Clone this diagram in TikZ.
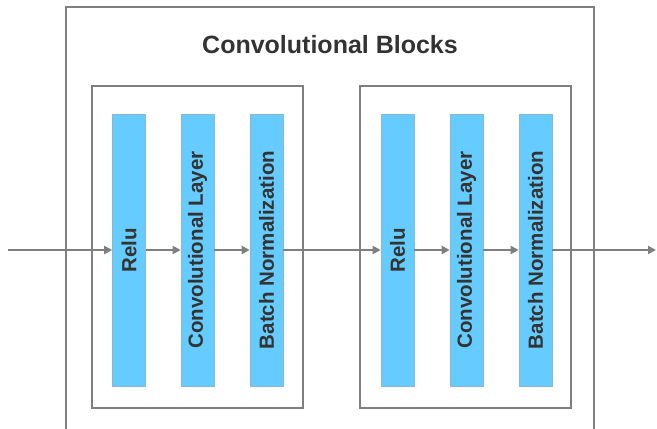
\documentclass[tikz,border=0pt]{standalone}
\usepackage{fontspec}
\setmainfont{Liberation Sans}
\usetikzlibrary{arrows.meta}
\definecolor{linegray}{HTML}{7F7F7F}
\definecolor{barblue}{HTML}{66CCFF}
\definecolor{baredge}{HTML}{8AB8D4}
\definecolor{textgray}{HTML}{333333}
\tikzset{
  frame/.style={draw=linegray, line width=2pt},
  layerbar/.style={draw=baredge, line width=0.6pt, fill=barblue, minimum width=33pt, minimum height=272pt, inner sep=0pt,
    font=\fontsize{20.5}{24}\selectfont\bfseries, text=textgray},
  flow/.style={draw=linegray, line width=2pt, -{Triangle[length=8pt,width=8pt]}},
}
\begin{document}
\begin{tikzpicture}[x=1pt,y=-1pt]
\useasboundingbox (0,0) rectangle (657,429);
% outer container, open at the bottom
\draw[frame] (66,432) -- (66,7) -- (594,7) -- (594,432);
\node[font=\fontsize{25}{30}\selectfont\bfseries, text=textgray] (title) at (330,45) {Convolutional Blocks};
% inner blocks
\draw[frame] (92,86) rectangle (303,408);
\draw[frame] (360,86) rectangle (571,408);
% layers of the first block
\node[layerbar] (r1) at (129,250) {\rotatebox{90}{Relu}};
\node[layerbar] (c1) at (197.5,250) {\rotatebox{90}{Convolutional Layer}};
\node[layerbar] (b1) at (266.5,250) {\rotatebox{90}{Batch Normalization}};
% layers of the second block
\node[layerbar] (r2) at (397.5,250) {\rotatebox{90}{Relu}};
\node[layerbar] (c2) at (466.5,250) {\rotatebox{90}{Convolutional Layer}};
\node[layerbar] (b2) at (535.5,250) {\rotatebox{90}{Batch Normalization}};
% data flow
\coordinate (in) at (8,250);
\coordinate (out) at (656,250);
\draw[flow] (in) -- (r1.west);
\draw[flow] (r1.east) -- (c1.west);
\draw[flow] (c1.east) -- (b1.west);
\draw[flow] (b1.east) -- (r2.west);
\draw[flow] (r2.east) -- (c2.west);
\draw[flow] (c2.east) -- (b2.west);
\draw[flow] (b2.east) -- (out);
\end{tikzpicture}
\end{document}
